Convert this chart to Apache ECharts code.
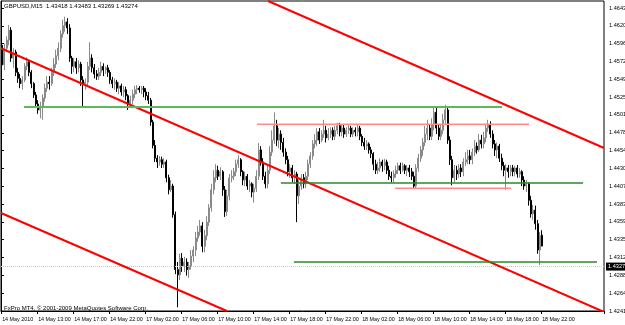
<!DOCTYPE html>
<html>
<head>
<meta charset="utf-8">
<script src="https://cdn.jsdelivr.net/npm/echarts@6/dist/echarts.min.js"></script>
<style>
html,body{margin:0;padding:0;background:#fff;}
#chart{width:625px;height:325px;}
</style>
</head>
<body>
<div id="chart"></div>
<script>
// ---- data (GBPUSD M15, 14 May 2010 09:00 -> 18 May 22:00) ----
const titleText = 'GBPUSD,M15  1.43418 1.43483 1.43269 1.43274';
const footerText = 'FxPro MT4, \u00a9 2001-2009 MetaQuotes Software Corp.';
const xTickLabels = ['14 May 2010','14 May 13:00','14 May 17:00','14 May 22:00','17 May 02:00','17 May 06:00','17 May 10:00','17 May 14:00','17 May 18:00','17 May 22:00','18 May 02:00','18 May 06:00','18 May 10:00','18 May 14:00','18 May 18:00','18 May 22:00'];
const yTickLabels = ['1.42410','1.42645','1.42880','1.43120','1.43355','1.43595','1.43830','1.44070','1.44305','1.44540','1.44780','1.45015','1.45250','1.45490','1.45725','1.45965','1.46200','1.46435'];
const barsPerLabel = 16;
const slotCount = 268;
const yMin = 1.42410, yMax = 1.46528;
const lastClose = 1.43274;

const opens = [
1.4594,1.4568,1.4590,1.4601,1.4614,1.4577,1.4585,1.4558,1.4550,1.4543,
1.4548,1.4566,1.4572,1.4558,1.4543,1.4528,1.4516,1.4508,1.4513,1.4524,
1.4537,1.4545,1.4543,1.4558,1.4569,1.4580,1.4590,1.4609,1.4620,1.4625,
1.4617,1.4577,1.4566,1.4572,1.4564,1.4569,1.4548,1.4543,1.4545,1.4566,
1.4577,1.4564,1.4556,1.4553,1.4558,1.4566,1.4561,1.4564,1.4558,1.4548,
1.4543,1.4545,1.4537,1.4540,1.4532,1.4535,1.4527,1.4516,1.4521,1.4529,
1.4535,1.4537,1.4535,1.4537,1.4532,1.4527,1.4521,1.4492,1.4461,1.4444,
1.4439,1.4442,1.4436,1.4439,1.4418,1.4402,1.4407,1.4369,1.4296,1.4289,
1.4311,1.4301,1.4306,1.4296,1.4301,1.4314,1.4322,1.4338,1.4346,1.4354,
1.4327,1.4341,1.4359,1.4378,1.4402,1.4418,1.4428,1.4420,1.4426,1.4402,
1.4373,1.4394,1.4418,1.4420,1.4426,1.4436,1.4442,1.4426,1.4415,1.4420,
1.4407,1.4410,1.4399,1.4404,1.4420,1.4455,1.4439,1.4420,1.4410,1.4428,
1.4452,1.4468,1.4487,1.4468,1.4476,1.4465,1.4452,1.4442,1.4426,1.4431,
1.4418,1.4423,1.4394,1.4407,1.4418,1.4410,1.4420,1.4436,1.4447,1.4463,
1.4468,1.4479,1.4468,1.4476,1.4481,1.4471,1.4476,1.4481,1.4473,1.4481,
1.4487,1.4479,1.4484,1.4476,1.4481,1.4484,1.4476,1.4481,1.4479,1.4484,
1.4473,1.4465,1.4460,1.4463,1.4455,1.4450,1.4436,1.4428,1.4431,1.4439,
1.4434,1.4439,1.4428,1.4420,1.4418,1.4423,1.4428,1.4434,1.4428,1.4434,
1.4428,1.4431,1.4426,1.4420,1.4407,1.4431,1.4444,1.4455,1.4465,1.4476,
1.4484,1.4473,1.4489,1.4505,1.4484,1.4473,1.4481,1.4495,1.4508,1.4468,
1.4442,1.4418,1.4428,1.4423,1.4431,1.4426,1.4439,1.4442,1.4447,1.4442,
1.4452,1.4460,1.4455,1.4468,1.4463,1.4471,1.4484,1.4489,1.4476,1.4463,
1.4455,1.4460,1.4444,1.4434,1.4428,1.4431,1.4426,1.4431,1.4426,1.4431,
1.4423,1.4426,1.4415,1.4407,1.4410,1.4388,1.4370,1.4375,1.4357,1.4322,
1.43418];
const highs = [
1.4601,1.4596,1.4606,1.4621,1.4618,1.4590,1.4588,1.4564,1.4556,1.4553,
1.4570,1.4578,1.4574,1.4561,1.4545,1.4532,1.4521,1.4519,1.4529,1.4543,
1.4553,1.4553,1.4564,1.4577,1.4588,1.4598,1.4614,1.4628,1.4632,1.4630,
1.4622,1.4580,1.4577,1.4577,1.4574,1.4572,1.4553,1.4550,1.4572,1.4598,
1.4582,1.4569,1.4561,1.4564,1.4572,1.4570,1.4566,1.4568,1.4561,1.4552,
1.4550,1.4548,1.4545,1.4543,1.4540,1.4539,1.4529,1.4527,1.4535,1.4540,
1.4541,1.4540,1.4540,1.4540,1.4537,1.4532,1.4524,1.4495,1.4468,1.4448,
1.4447,1.4446,1.4444,1.4442,1.4422,1.4415,1.4410,1.4373,1.4306,1.4317,
1.4318,1.4313,1.4311,1.4306,1.4322,1.4327,1.4346,1.4354,1.4362,1.4359,
1.4349,1.4367,1.4383,1.4410,1.4428,1.4436,1.4434,1.4432,1.4428,1.4407,
1.4402,1.4423,1.4428,1.4431,1.4442,1.4448,1.4444,1.4428,1.4426,1.4423,
1.4415,1.4412,1.4410,1.4428,1.4464,1.4460,1.4444,1.4426,1.4434,1.4460,
1.4481,1.4505,1.4495,1.4484,1.4481,1.4471,1.4457,1.4447,1.4436,1.4435,
1.4428,1.4426,1.4415,1.4423,1.4423,1.4426,1.4442,1.4452,1.4468,1.4476,
1.4484,1.4484,1.4481,1.4495,1.4487,1.4484,1.4485,1.4485,1.4487,1.4491,
1.4491,1.4489,1.4488,1.4485,1.4488,1.4487,1.4485,1.4485,1.4488,1.4487,
1.4476,1.4471,1.4468,1.4465,1.4459,1.4452,1.4442,1.4439,1.4444,1.4442,
1.4443,1.4442,1.4434,1.4426,1.4428,1.4434,1.4438,1.4438,1.4438,1.4436,
1.4435,1.4435,1.4431,1.4426,1.4436,1.4450,1.4460,1.4471,1.4487,1.4495,
1.4489,1.4497,1.4511,1.4511,1.4489,1.4489,1.4503,1.4515,1.4513,1.4473,
1.4447,1.4435,1.4434,1.4436,1.4436,1.4444,1.4452,1.4455,1.4455,1.4457,
1.4468,1.4465,1.4476,1.4475,1.4479,1.4489,1.4495,1.4493,1.4481,1.4468,
1.4465,1.4463,1.4450,1.4439,1.4436,1.4435,1.4435,1.4435,1.4434,1.4435,
1.4431,1.4428,1.4420,1.4415,1.4412,1.4394,1.4382,1.4381,1.4362,1.4346,
1.43483];
const lows = [
1.4561,1.4561,1.4585,1.4594,1.4572,1.4564,1.4553,1.4544,1.4537,1.4535,
1.4545,1.4561,1.4553,1.4537,1.4524,1.4511,1.4503,1.4497,1.4495,1.4519,
1.4532,1.4535,1.4540,1.4553,1.4564,1.4574,1.4585,1.4604,1.4612,1.4609,
1.4572,1.4556,1.4558,1.4556,1.4558,1.4540,1.4512,1.4535,1.4540,1.4561,
1.4558,1.4550,1.4548,1.4548,1.4553,1.4553,1.4556,1.4552,1.4543,1.4537,
1.4535,1.4532,1.4529,1.4527,1.4525,1.4521,1.4508,1.4511,1.4516,1.4524,
1.4529,1.4531,1.4529,1.4525,1.4521,1.4516,1.4487,1.4457,1.4439,1.4431,
1.4434,1.4431,1.4431,1.4412,1.4396,1.4399,1.4365,1.4290,1.4246,1.4282,
1.4293,1.4293,1.4288,1.4285,1.4296,1.4306,1.4314,1.4333,1.4341,1.4319,
1.4319,1.4335,1.4354,1.4373,1.4396,1.4412,1.4415,1.4415,1.4394,1.4366,
1.4367,1.4388,1.4412,1.4415,1.4420,1.4431,1.4420,1.4408,1.4407,1.4402,
1.4399,1.4392,1.4385,1.4399,1.4415,1.4434,1.4415,1.4404,1.4404,1.4423,
1.4447,1.4463,1.4460,1.4457,1.4455,1.4446,1.4436,1.4420,1.4418,1.4412,
1.4410,1.4359,1.4383,1.4402,1.4404,1.4404,1.4415,1.4431,1.4442,1.4457,
1.4460,1.4463,1.4465,1.4471,1.4465,1.4468,1.4471,1.4468,1.4468,1.4476,
1.4473,1.4473,1.4471,1.4472,1.4476,1.4472,1.4472,1.4473,1.4473,1.4468,
1.4460,1.4455,1.4455,1.4450,1.4444,1.4428,1.4423,1.4423,1.4426,1.4426,
1.4428,1.4423,1.4415,1.4412,1.4412,1.4418,1.4423,1.4423,1.4426,1.4423,
1.4420,1.4419,1.4415,1.4404,1.4404,1.4426,1.4439,1.4447,1.4460,1.4468,
1.4468,1.4468,1.4481,1.4476,1.4468,1.4468,1.4476,1.4489,1.4463,1.4435,
1.4408,1.4412,1.4415,1.4418,1.4419,1.4420,1.4434,1.4436,1.4436,1.4436,
1.4447,1.4450,1.4452,1.4457,1.4457,1.4465,1.4479,1.4471,1.4457,1.4447,
1.4444,1.4439,1.4428,1.4420,1.4402,1.4418,1.4420,1.4420,1.4420,1.4418,
1.4418,1.4407,1.4402,1.4399,1.4381,1.4365,1.4362,1.4349,1.4317,1.4302,
1.43269];
const closes = [
1.4568,1.4590,1.4601,1.4614,1.4577,1.4585,1.4558,1.4550,1.4543,1.4548,
1.4566,1.4572,1.4558,1.4543,1.4528,1.4516,1.4508,1.4513,1.4524,1.4537,
1.4545,1.4543,1.4558,1.4569,1.4580,1.4590,1.4609,1.4620,1.4625,1.4617,
1.4577,1.4566,1.4572,1.4564,1.4569,1.4548,1.4543,1.4545,1.4566,1.4577,
1.4564,1.4556,1.4553,1.4558,1.4566,1.4561,1.4564,1.4558,1.4548,1.4543,
1.4545,1.4537,1.4540,1.4532,1.4535,1.4527,1.4516,1.4521,1.4529,1.4535,
1.4537,1.4535,1.4537,1.4532,1.4527,1.4521,1.4492,1.4461,1.4444,1.4439,
1.4442,1.4436,1.4439,1.4418,1.4402,1.4407,1.4369,1.4296,1.4289,1.4311,
1.4301,1.4306,1.4296,1.4301,1.4314,1.4322,1.4338,1.4346,1.4354,1.4327,
1.4341,1.4359,1.4378,1.4402,1.4418,1.4428,1.4420,1.4426,1.4402,1.4373,
1.4394,1.4418,1.4420,1.4426,1.4436,1.4442,1.4426,1.4415,1.4420,1.4407,
1.4410,1.4399,1.4404,1.4420,1.4455,1.4439,1.4420,1.4410,1.4428,1.4452,
1.4468,1.4487,1.4468,1.4476,1.4465,1.4452,1.4442,1.4426,1.4431,1.4418,
1.4423,1.4394,1.4407,1.4418,1.4410,1.4420,1.4436,1.4447,1.4463,1.4468,
1.4479,1.4468,1.4476,1.4481,1.4471,1.4476,1.4481,1.4473,1.4481,1.4487,
1.4479,1.4484,1.4476,1.4481,1.4484,1.4476,1.4481,1.4479,1.4484,1.4473,
1.4465,1.4460,1.4463,1.4455,1.4450,1.4436,1.4428,1.4431,1.4439,1.4434,
1.4439,1.4428,1.4420,1.4418,1.4423,1.4428,1.4434,1.4428,1.4434,1.4428,
1.4431,1.4426,1.4420,1.4407,1.4431,1.4444,1.4455,1.4465,1.4476,1.4484,
1.4473,1.4489,1.4505,1.4484,1.4473,1.4481,1.4495,1.4508,1.4468,1.4442,
1.4418,1.4428,1.4423,1.4431,1.4426,1.4439,1.4442,1.4447,1.4442,1.4452,
1.4460,1.4455,1.4468,1.4463,1.4471,1.4484,1.4489,1.4476,1.4463,1.4455,
1.4460,1.4444,1.4434,1.4428,1.4431,1.4426,1.4431,1.4426,1.4431,1.4423,
1.4426,1.4415,1.4407,1.4410,1.4388,1.4370,1.4375,1.4357,1.4322,1.4341,
1.43274];

// trend lines drawn on the chart: [barPosition, price] endpoints
const redLineUpper  = [[118.7, 1.46528], [268, 1.44575]];
const redLineMiddle = [[0, 1.4590], [268, 1.42397]];
const redLineLower  = [[0, 1.43712], [100.4, 1.42410]];
// horizontal levels: [startBar, endBar, price]
const greenLevels = [[10.2, 222.7, 1.4512], [124.4, 258.7, 1.4411], [130.2, 264.9, 1.4306]];
const pinkLevels  = [[113.8, 234.7, 1.4489], [175.1, 226.7, 1.4404]];

// ---- chart ----
const chart = echarts.init(document.getElementById('chart'), null, {renderer: 'canvas'});
const candleData = opens.map((o, i) => [o, closes[i], lows[i], highs[i]]);
const slots = Array.from({length: slotCount}, (_, i) => i);
const FONT = 'Liberation Sans';
const yStep = (Number(yTickLabels[yTickLabels.length - 1]) - Number(yTickLabels[0])) / (yTickLabels.length - 1);

const lineSeries = [];
function addLine(pts, color, width) {
  lineSeries.push({
    type: 'line', xAxisIndex: 1, yAxisIndex: 0, data: pts,
    symbol: 'none', silent: true, animation: false, z: 5,
    lineStyle: {color: color, width: width}
  });
}
addLine(redLineUpper, '#ff0000', 2);
addLine(redLineMiddle, '#ff0000', 2);
addLine(redLineLower, '#ff0000', 2);
const greenColors = ['#5cb85c', '#2a8a2a', '#2a8a2a'];
greenLevels.forEach((g, k) => addLine([[g[0], g[2]], [g[1], g[2]]], greenColors[k], k === 0 ? 2 : 1.5));
pinkLevels.forEach(p => addLine([[p[0], p[2]], [p[1], p[2]]], '#ff8a8a', 1.5));

function yLabelFor(v) {
  const k = Math.round((v - yMin) / yStep);
  if (Math.abs(v - (yMin + k * yStep)) > yStep * 0.1) return '';
  return yTickLabels[k] || '';
}

chart.setOption({
  animation: false,
  backgroundColor: '#ffffff',
  title: {
    text: titleText, left: 4, top: 3, padding: 0,
    textStyle: {fontFamily: FONT, fontSize: 6, fontWeight: 'normal', color: '#000'}
  },
  graphic: [{
    type: 'text', left: 4, top: 305,
    style: {text: footerText, fontFamily: FONT, fontSize: 6, fill: '#000'}
  }],
  grid: {left: 1, right: 21, top: 1, bottom: 14, show: true, borderColor: '#000', borderWidth: 1,
         backgroundColor: '#fff', containLabel: false, outerBoundsMode: 'none'},
  xAxis: [{
    type: 'category', data: slots, boundaryGap: true,
    axisLine: {lineStyle: {color: '#000', width: 1}},
    axisTick: {show: true, length: 3, lineStyle: {color: '#000'},
      interval: (idx) => idx % barsPerLabel === 0 && idx / barsPerLabel < xTickLabels.length},
    axisLabel: {
      interval: (idx) => idx % barsPerLabel === 0 && idx / barsPerLabel < xTickLabels.length,
      formatter: (v, idx) => (idx % barsPerLabel === 0 ? (xTickLabels[idx / barsPerLabel] || '') : ''),
      align: 'left', padding: [0, 0, 0, 0], margin: 6, hideOverlap: false,
      fontFamily: FONT, fontSize: 5.4, color: '#000'
    },
    splitLine: {show: false}
  }, {
    type: 'value', min: 0, max: slotCount, show: false
  }],
  yAxis: [{
    type: 'value', position: 'right', min: yMin, max: yMax, interval: yStep,
    axisLine: {show: true, lineStyle: {color: '#000', width: 1}},
    axisTick: {show: true, length: 3, lineStyle: {color: '#000'}},
    axisLabel: {
      formatter: yLabelFor, showMaxLabel: false, hideOverlap: false,
      margin: 5, fontFamily: FONT, fontSize: 5.6, color: '#000'
    },
    splitLine: {show: false}
  }],
  series: [{
    type: 'candlestick', xAxisIndex: 0, yAxisIndex: 0,
    data: candleData, barWidth: '70%', z: 3,
    itemStyle: {
      color: '#a8a8a8', borderColor: '#8a8a8a',
      color0: '#000000', borderColor0: '#000000', borderWidth: 1
    },
    markLine: {
      silent: true, symbol: ['none', 'none'], animation: false,
      lineStyle: {color: '#c8c8c8', type: 'dotted', width: 1},
      label: {
        show: true, position: 'end', distance: 2,
        formatter: () => lastClose.toFixed(5),
        backgroundColor: '#000', color: '#fff', fontFamily: FONT, fontSize: 5.6,
        padding: [1, 2, 1, 2]
      },
      data: [{yAxis: lastClose}]
    }
  }].concat(lineSeries)
});
</script>
</body>
</html>
